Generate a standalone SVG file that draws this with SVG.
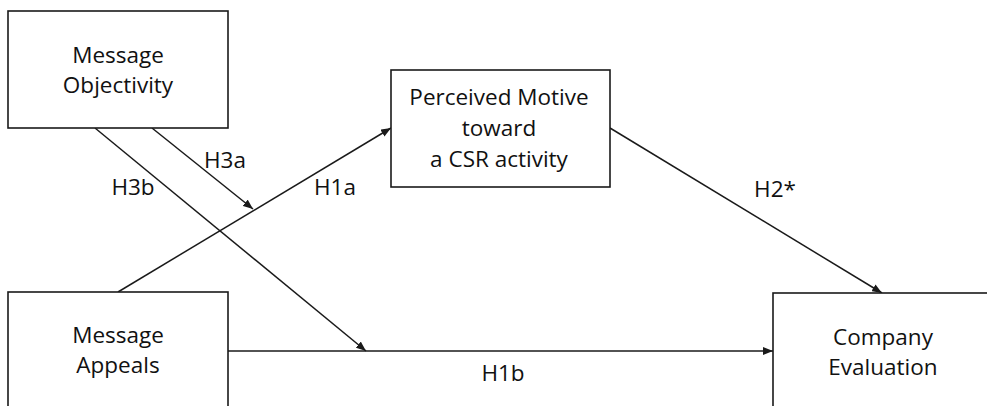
<svg xmlns="http://www.w3.org/2000/svg" width="987" height="406" viewBox="0 0 987 406">
<style>
.box{fill:#fff;stroke:#1a1a1a;stroke-width:1.6}
.lbl{font-family:"Open Sans","Liberation Sans",sans-serif;font-size:22.5px;fill:#111;text-anchor:middle}
.edge{stroke:#1a1a1a;stroke-width:1.5;fill:none;marker-end:url(#ah)}
</style>
<defs>
<marker id="ah" viewBox="0 0 10 8" refX="10" refY="4" markerWidth="10" markerHeight="8" markerUnits="userSpaceOnUse" orient="auto">
<path d="M0,0 L10,4 L0,8 Z" fill="#1a1a1a"/>
</marker>
</defs>
<rect width="987" height="406" fill="#fff"/>
<g id="connectors">
<line class="edge" x1="152" y1="128" x2="253" y2="209"/>
<line class="edge" x1="95" y1="128" x2="366" y2="351"/>
<line class="edge" x1="118" y1="292" x2="391" y2="128"/>
<line class="edge" x1="228" y1="351" x2="773" y2="351"/>
<line class="edge" x1="610" y1="128" x2="882" y2="293"/>
<text class="lbl" x="225" y="168">H3a</text>
<text class="lbl" x="133" y="195">H3b</text>
<text class="lbl" x="335" y="195">H1a</text>
<text class="lbl" x="775" y="197">H2*</text>
<text class="lbl" x="503" y="381">H1b</text>
</g>
<g id="objectivity">
<rect class="box" x="8" y="11" width="220" height="117"/>
<text class="lbl" x="118" y="63">Message</text>
<text class="lbl" x="118" y="93">Objectivity</text>
</g>
<g id="motive">
<rect class="box" x="391" y="70" width="219" height="117"/>
<text class="lbl" x="499" y="105">Perceived Motive</text>
<text class="lbl" x="499" y="136">toward</text>
<text class="lbl" x="499" y="167">a CSR activity</text>
</g>
<g id="appeals">
<rect class="box" x="8" y="292" width="220" height="130"/>
<text class="lbl" x="118" y="343">Message</text>
<text class="lbl" x="118" y="373">Appeals</text>
</g>
<g id="evaluation">
<rect class="box" x="773" y="293" width="230" height="130"/>
<text class="lbl" x="883" y="345">Company</text>
<text class="lbl" x="883" y="375">Evaluation</text>
</g>
</svg>
